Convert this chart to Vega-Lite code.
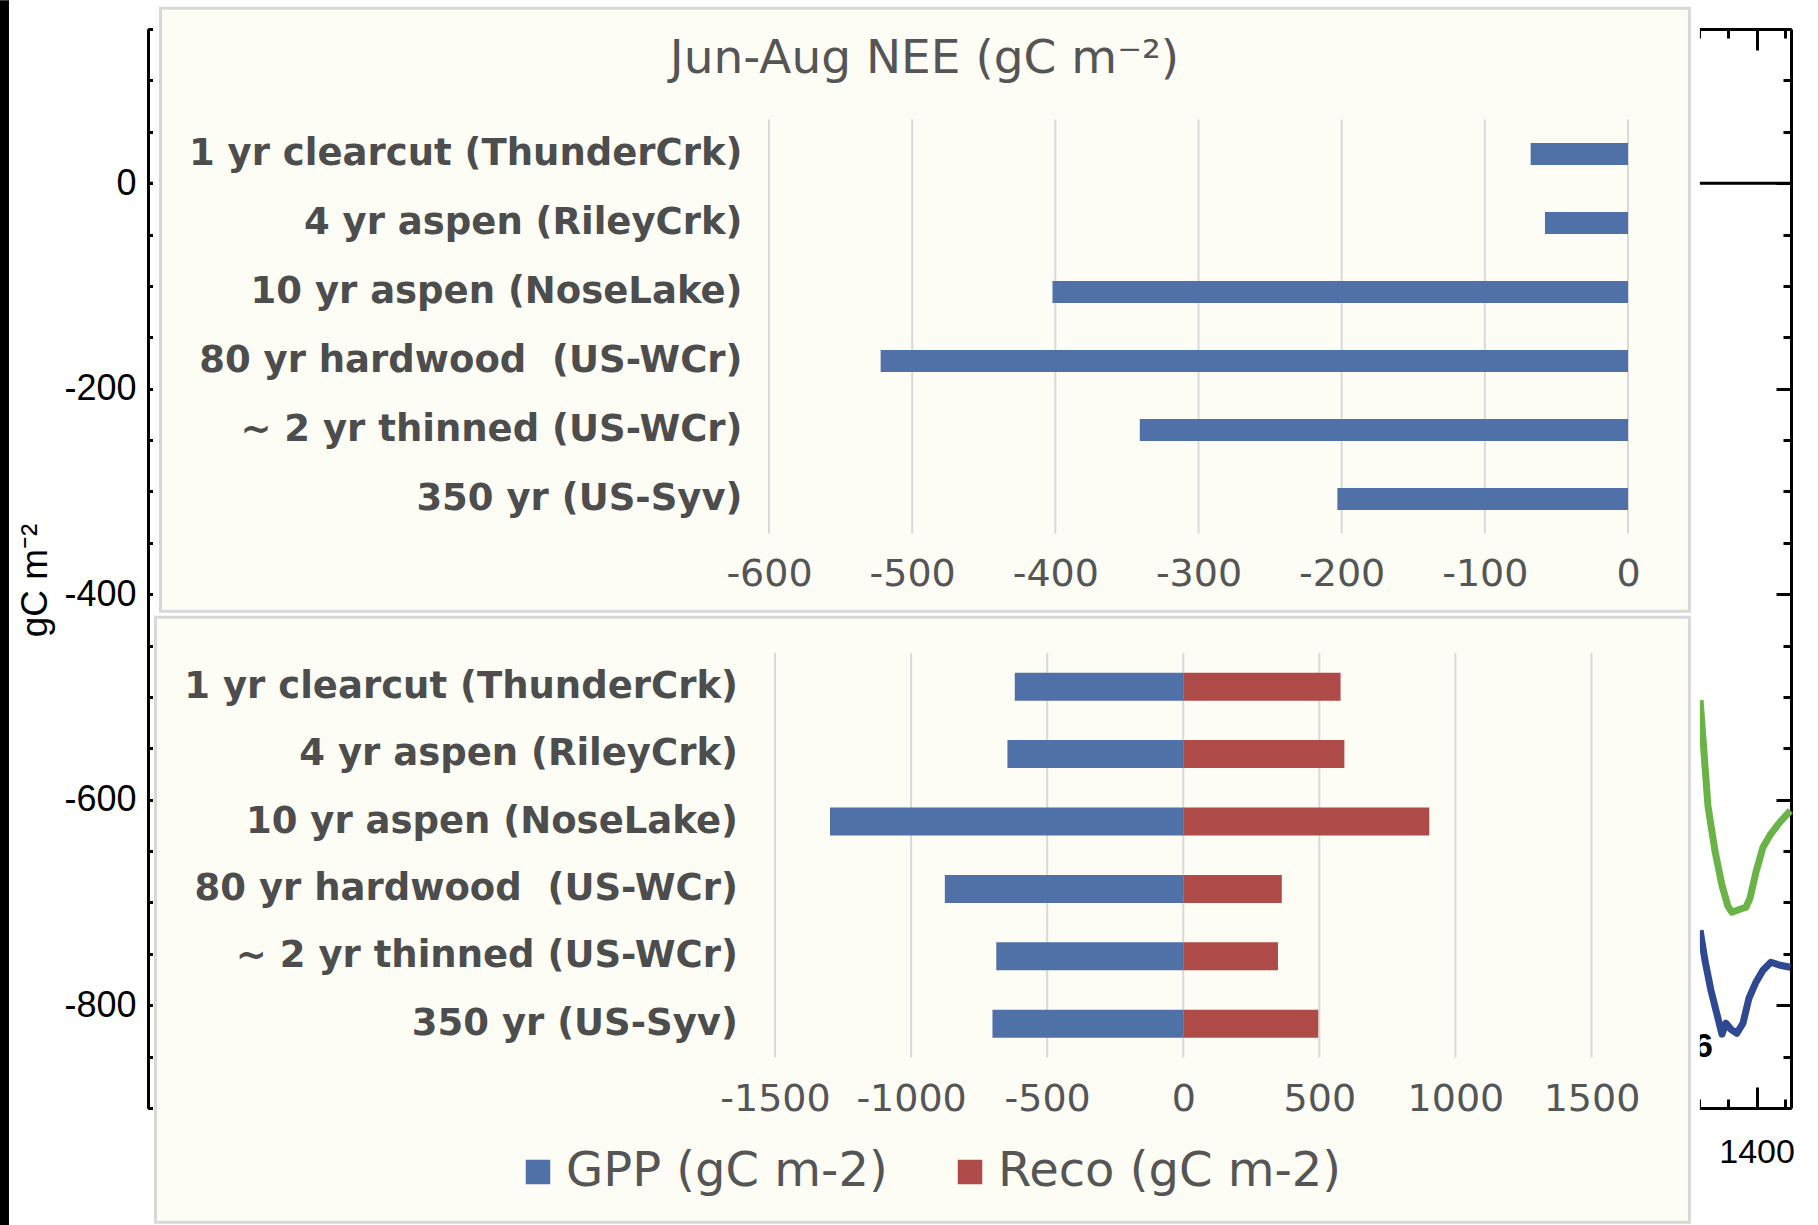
{
  "$schema": "https://vega.github.io/schema/vega-lite/v6.json",
  "width": 1643,
  "height": 1079,
  "autosize": {"type": "none"},
  "padding": {"left": 148, "top": 29, "right": 27, "bottom": 117},
  "background": "white",
  "config": {
    "font": "Liberation Sans",
    "view": {"stroke": null},
    "axis": {"labelOverlap": false, "labelFlush": false, "labelBound": false}
  },
  "layer": [
    {
      "layer": [
        {
          "data": {"values": [{}]},
          "mark": {"type": "rect", "color": "black"},
          "encoding": {
            "x": {"datum": -129, "type": "quantitative", "axis": null},
            "x2": {"datum": -121},
            "y": {"datum": 178, "type": "quantitative", "axis": null},
            "y2": {"datum": -1014}
          }
        },
        {
          "data": {"values": [
            {"series": "upper", "year": 1350.9, "gC": -503.2},
            {"series": "upper", "year": 1357.7, "gC": -605.8},
            {"series": "upper", "year": 1363.8, "gC": -649.6},
            {"series": "upper", "year": 1369.9, "gC": -683.2},
            {"series": "upper", "year": 1375.1, "gC": -703.6},
            {"series": "upper", "year": 1378.6, "gC": -709.5},
            {"series": "upper", "year": 1385.6, "gC": -706.6},
            {"series": "upper", "year": 1390.8, "gC": -704.6},
            {"series": "upper", "year": 1394.3, "gC": -695.9},
            {"series": "upper", "year": 1399.5, "gC": -670.6},
            {"series": "upper", "year": 1405.6, "gC": -646.2},
            {"series": "upper", "year": 1411.7, "gC": -634.5},
            {"series": "upper", "year": 1419.5, "gC": -622.9},
            {"series": "upper", "year": 1429.5, "gC": -610.7},
            {"series": "lower", "year": 1350.9, "gC": -727.0},
            {"series": "lower", "year": 1355.1, "gC": -756.2},
            {"series": "lower", "year": 1360.3, "gC": -785.4},
            {"series": "lower", "year": 1364.7, "gC": -804.9},
            {"series": "lower", "year": 1369.9, "gC": -828.2},
            {"series": "lower", "year": 1373.4, "gC": -817.5},
            {"series": "lower", "year": 1377.7, "gC": -823.4},
            {"series": "lower", "year": 1382.9, "gC": -827.3},
            {"series": "lower", "year": 1388.2, "gC": -817.5},
            {"series": "lower", "year": 1393.4, "gC": -793.2},
            {"series": "lower", "year": 1399.5, "gC": -777.6},
            {"series": "lower", "year": 1405.6, "gC": -765.9},
            {"series": "lower", "year": 1412.5, "gC": -758.2},
            {"series": "lower", "year": 1420.4, "gC": -761.1},
            {"series": "lower", "year": 1429.5, "gC": -763.0}
          ]},
          "mark": {"type": "line", "strokeWidth": 7, "strokeJoin": "round", "strokeCap": "butt"},
          "encoding": {
            "x": {
              "field": "year", "type": "quantitative",
              "scale": {"domain": [0, 1430], "nice": false, "zero": false},
              "axis": {
                "orient": "bottom", "zindex": 0, "grid": false, "title": null,
                "values": [0,25,50,75,100,125,150,175,200,225,250,275,300,325,350,375,400,425,450,475,500,525,550,575,600,625,650,675,700,725,750,775,800,825,850,875,900,925,950,975,1000,1025,1050,1075,1100,1125,1150,1175,1200,1225,1250,1275,1300,1325,1350,1375,1400,1425],
                "labelExpr": "datum.value === 1400 ? '1400' : ''",
                "domainColor": "black", "domainWidth": 3,
                "tickColor": "black", "tickWidth": 3,
                "tickSize": {"condition": {"test": "datum.value % 100 === 0", "value": -21}, "value": -9},
                "labelFont": "Liberation Sans", "labelFontSize": 34, "labelColor": "black",
                "labelBaseline": "middle", "labelPadding": 65
              }
            },
            "y": {
              "field": "gC", "type": "quantitative",
              "scale": {"domain": [-900, 150], "nice": false, "zero": false},
              "axis": {
                "orient": "left", "zindex": 0, "grid": false,
                "values": [-900,-850,-800,-750,-700,-650,-600,-550,-500,-450,-400,-350,-300,-250,-200,-150,-100,-50,0,50,100,150],
                "labelExpr": "datum.value % 200 === 0 ? '' + datum.value : ''",
                "domainColor": "black", "domainWidth": 3,
                "tickColor": "black", "tickWidth": 3,
                "tickSize": {"condition": {"test": "datum.value % 200 === 0", "value": -15}, "value": -8},
                "labelFont": "Liberation Sans", "labelFontSize": 36, "labelColor": "black",
                "labelPadding": 27,
                "title": "gC m⁻²", "titleFont": "Liberation Sans", "titleFontSize": 37,
                "titleFontWeight": "normal", "titleColor": "black",
                "titleAngle": -90, "titleX": -113, "titleY": 551,
                "titleAlign": "center", "titleBaseline": "middle"
              }
            },
            "color": {
              "field": "series", "type": "nominal",
              "scale": {"domain": ["upper", "lower"], "range": ["#6ab346", "#2e4891"]},
              "legend": null
            }
          }
        },
        {
          "data": {"values": [{}]},
          "mark": {"type": "rule", "color": "black", "strokeWidth": 3},
          "encoding": {
            "y": {
              "datum": 0, "type": "quantitative",
              "axis": {
                "orient": "right", "zindex": 0, "grid": false, "labels": false, "title": null,
                "values": [-900,-850,-800,-750,-700,-650,-600,-550,-500,-450,-400,-350,-300,-250,-200,-150,-100,-50,0,50,100,150],
                "domainColor": "black", "domainWidth": 3,
                "tickColor": "black", "tickWidth": 3,
                "tickSize": {"condition": {"test": "datum.value % 200 === 0", "value": -15}, "value": -8}
              }
            }
          }
        },
        {
          "data": {"values": [{"t": "6", "year": 1362, "gC": -841}]},
          "mark": {"type": "text", "align": "right", "baseline": "middle", "font": "Liberation Sans", "fontWeight": "bold", "fontSize": 34, "color": "black"},
          "encoding": {
            "text": {"field": "t"},
            "x": {
              "field": "year", "type": "quantitative",
              "axis": {
                "orient": "top", "zindex": 0, "grid": false, "labels": false, "title": null,
                "values": [0,25,50,75,100,125,150,175,200,225,250,275,300,325,350,375,400,425,450,475,500,525,550,575,600,625,650,675,700,725,750,775,800,825,850,875,900,925,950,975,1000,1025,1050,1075,1100,1125,1150,1175,1200,1225,1250,1275,1300,1325,1350,1375,1400,1425],
                "domainColor": "black", "domainWidth": 3,
                "tickColor": "black", "tickWidth": 3,
                "tickSize": {"condition": {"test": "datum.value % 100 === 0", "value": -21}, "value": -9}
              }
            },
            "y": {"field": "gC", "type": "quantitative", "axis": null}
          }
        },
        {
          "data": {"values": [{}]},
          "mark": {"type": "rect", "color": "white"},
          "encoding": {
            "x": {"datum": 4.35, "type": "quantitative", "axis": null},
            "x2": {"datum": 1350.7},
            "y": {"datum": 178, "type": "quantitative", "axis": null},
            "y2": {"datum": -1014}
          }
        },
        {
          "data": {"values": [{}]},
          "mark": {"type": "rect", "fill": "#fdfdf6", "stroke": "#d8d8d8", "strokeWidth": 3},
          "encoding": {
            "x": {"datum": 10.9, "type": "quantitative", "axis": null},
            "x2": {"datum": 1341.6},
            "y": {"datum": 170.3, "type": "quantitative", "axis": null},
            "y2": {"datum": -416.5}
          }
        },
        {
          "data": {"values": [{}]},
          "mark": {"type": "rect", "fill": "#fdfdf6", "stroke": "#d8d8d8", "strokeWidth": 3},
          "encoding": {
            "x": {"datum": 6.5, "type": "quantitative", "axis": null},
            "x2": {"datum": 1341.6},
            "y": {"datum": -422.4, "type": "quantitative", "axis": null},
            "y2": {"datum": -1011.2}
          }
        }
      ],
      "resolve": {"axis": {"x": "independent", "y": "independent"}}
    },
    {
      "layer": [
        {
          "data": {"values": [{"v": -600}, {"v": -500}, {"v": -400}, {"v": -300}, {"v": -200}, {"v": -100}, {"v": 0}]},
          "mark": {"type": "tick", "orient": "vertical", "color": "#d9d9d9", "opacity": 1, "thickness": 2, "size": 414},
          "encoding": {
            "x": {"field": "v", "type": "quantitative", "scale": {"domain": [-600, 0], "range": [621, 1480], "nice": false, "zero": false}, "axis": null},
            "y": {"datum": "grid", "type": "nominal", "scale": {"domain": ["grid"], "range": [90.5, 504.5], "paddingInner": 0, "paddingOuter": 0}, "axis": null}
          }
        },
        {
          "data": {"values": [
            {"site": "1 yr clearcut (ThunderCrk)", "nee": -68},
            {"site": "4 yr aspen (RileyCrk)", "nee": -58},
            {"site": "10 yr aspen (NoseLake)", "nee": -402},
            {"site": "80 yr hardwood\u00a0 (US-WCr)", "nee": -522},
            {"site": "~ 2 yr thinned (US-WCr)", "nee": -341},
            {"site": "350 yr (US-Syv)\u00a0", "nee": -203}
          ]},
          "mark": {"type": "bar", "color": "#4f71a8"},
          "encoding": {
            "y": {
              "field": "site", "type": "nominal", "sort": null,
              "scale": {
                "domain": ["1 yr clearcut (ThunderCrk)", "4 yr aspen (RileyCrk)", "10 yr aspen (NoseLake)", "80 yr hardwood\u00a0 (US-WCr)", "~ 2 yr thinned (US-WCr)", "350 yr (US-Syv)\u00a0"],
                "range": [90.5, 504.5], "paddingInner": 0.68, "paddingOuter": 0.34
              },
              "axis": {
                "orient": "left", "offset": -594, "zindex": 1, "domain": false, "ticks": false, "grid": false,
                "labelPadding": 0, "labelFont": "DejaVu Sans", "labelFontWeight": "bold", "labelFontSize": 37,
                "labelColor": "#4d4d4d", "labelLimit": 0, "title": null
              }
            },
            "x": {
              "field": "nee", "type": "quantitative",
              "scale": {"domain": [-600, 0], "range": [621, 1480], "nice": false, "zero": false},
              "axis": {
                "orient": "bottom", "offset": -574.5, "zindex": 1, "domain": false, "ticks": false, "grid": false,
                "values": [-600, -500, -400, -300, -200, -100, 0],
                "labelExpr": "'' + datum.value",
                "labelPadding": 40.5, "labelBaseline": "middle",
                "labelFont": "DejaVu Sans", "labelFontSize": 38, "labelColor": "#555555",
                "title": "Jun-Aug NEE (gC m⁻²)", "titleX": 776, "titleY": -475.5,
                "titleFont": "DejaVu Sans", "titleFontSize": 47, "titleFontWeight": "normal",
                "titleColor": "#555555", "titleAlign": "center", "titleBaseline": "middle", "titleAngle": 0
              }
            }
          }
        }
      ],
      "resolve": {"scale": {"y": "independent"}, "axis": {"x": "independent", "y": "independent"}}
    },
    {
      "layer": [
        {
          "data": {"values": [{"v": -1500}, {"v": -1000}, {"v": -500}, {"v": 0}, {"v": 500}, {"v": 1000}, {"v": 1500}]},
          "mark": {"type": "tick", "orient": "vertical", "color": "#d9d9d9", "opacity": 1, "thickness": 2, "size": 404.4},
          "encoding": {
            "x": {"field": "v", "type": "quantitative", "scale": {"domain": [-1500, 1500], "range": [627, 1443.5], "nice": false, "zero": false}, "axis": null},
            "y": {"datum": "grid", "type": "nominal", "scale": {"domain": ["grid"], "range": [624, 1028.4], "paddingInner": 0, "paddingOuter": 0}, "axis": null}
          }
        },
        {
          "data": {"values": [
            {"site": "1 yr clearcut (ThunderCrk)", "flux": "GPP (gC m-2)", "value": -619},
            {"site": "1 yr clearcut (ThunderCrk)", "flux": "Reco (gC m-2)", "value": 578},
            {"site": "4 yr aspen (RileyCrk)", "flux": "GPP (gC m-2)", "value": -646},
            {"site": "4 yr aspen (RileyCrk)", "flux": "Reco (gC m-2)", "value": 592},
            {"site": "10 yr aspen (NoseLake)", "flux": "GPP (gC m-2)", "value": -1298},
            {"site": "10 yr aspen (NoseLake)", "flux": "Reco (gC m-2)", "value": 904},
            {"site": "80 yr hardwood\u00a0 (US-WCr)", "flux": "GPP (gC m-2)", "value": -876},
            {"site": "80 yr hardwood\u00a0 (US-WCr)", "flux": "Reco (gC m-2)", "value": 362},
            {"site": "~ 2 yr thinned (US-WCr)", "flux": "GPP (gC m-2)", "value": -687},
            {"site": "~ 2 yr thinned (US-WCr)", "flux": "Reco (gC m-2)", "value": 348},
            {"site": "350 yr (US-Syv)\u00a0", "flux": "GPP (gC m-2)", "value": -701},
            {"site": "350 yr (US-Syv)\u00a0", "flux": "Reco (gC m-2)", "value": 496}
          ]},
          "mark": {"type": "bar"},
          "encoding": {
            "y": {
              "field": "site", "type": "nominal", "sort": null,
              "scale": {
                "domain": ["1 yr clearcut (ThunderCrk)", "4 yr aspen (RileyCrk)", "10 yr aspen (NoseLake)", "80 yr hardwood\u00a0 (US-WCr)", "~ 2 yr thinned (US-WCr)", "350 yr (US-Syv)\u00a0"],
                "range": [624, 1028.4], "paddingInner": 0.585, "paddingOuter": 0.2925
              },
              "axis": {
                "orient": "left", "offset": -589.4, "zindex": 1, "domain": false, "ticks": false, "grid": false,
                "labelPadding": 0, "labelFont": "DejaVu Sans", "labelFontWeight": "bold", "labelFontSize": 37,
                "labelColor": "#4d4d4d", "labelLimit": 0, "title": null
              }
            },
            "x": {
              "field": "value", "type": "quantitative", "stack": null,
              "scale": {"domain": [-1500, 1500], "range": [627, 1443.5], "nice": false, "zero": false},
              "axis": {
                "orient": "bottom", "offset": -50.6, "zindex": 1, "domain": false, "ticks": false, "grid": false,
                "values": [-1500, -1000, -500, 0, 500, 1000, 1500],
                "labelExpr": "'' + datum.value",
                "labelPadding": 42, "labelBaseline": "middle",
                "labelFont": "DejaVu Sans", "labelFontSize": 38, "labelColor": "#555555",
                "title": null
              }
            },
            "color": {
              "field": "flux", "type": "nominal",
              "scale": {"domain": ["GPP (gC m-2)", "Reco (gC m-2)"], "range": ["#4f71a8", "#ae4a47"]},
              "legend": {
                "orient": "none", "direction": "horizontal", "legendX": 366, "legendY": 1119,
                "title": null, "padding": 0, "symbolType": "square", "symbolSize": 600,
                "symbolStrokeWidth": 0, "symbolOpacity": 1,
                "labelFont": "DejaVu Sans", "labelFontSize": 48, "labelColor": "#555555",
                "labelOffset": 4, "columnPadding": 58, "labelLimit": 0
              }
            }
          }
        }
      ],
      "resolve": {"scale": {"y": "independent"}, "axis": {"x": "independent", "y": "independent"}}
    }
  ],
  "resolve": {
    "scale": {"x": "independent", "y": "independent", "color": "independent"},
    "axis": {"x": "independent", "y": "independent"}
  }
}
